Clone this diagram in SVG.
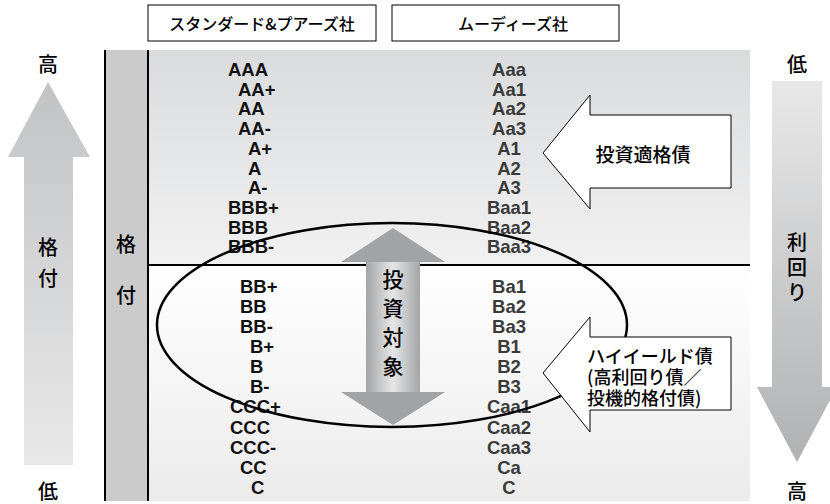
<svg xmlns="http://www.w3.org/2000/svg" width="830" height="504" viewBox="0 0 830 504">
<defs>
<style>
.jp{font-family:"Noto Sans CJK JP","Noto Sans",sans-serif;fill:#000;font-weight:500}
.r{font-family:"Liberation Sans",Arial,sans-serif;font-weight:bold;font-size:18.5px}
.sp{fill:#111}
.md{fill:#3a3a3a;text-anchor:middle}
.ln{stroke:#000;stroke-width:2;fill:none}
.co{fill:#fff;stroke:#000;stroke-width:1}
</style>
<linearGradient id="gUp" x1="0" y1="0" x2="0" y2="1"><stop offset="0" stop-color="#dadbdc"/><stop offset="1" stop-color="#f1f1f2"/></linearGradient>
<linearGradient id="gLo" x1="0" y1="0" x2="0" y2="1"><stop offset="0" stop-color="#ffffff"/><stop offset="1" stop-color="#ebebec"/></linearGradient>
<linearGradient id="gLA" x1="0" y1="0" x2="0" y2="1"><stop offset="0" stop-color="#c2c3c4"/><stop offset="1" stop-color="#e8e8e9"/></linearGradient>
<linearGradient id="gRA" x1="0" y1="0" x2="0" y2="1"><stop offset="0" stop-color="#e8e8e9"/><stop offset="1" stop-color="#b0b1b2"/></linearGradient>
<linearGradient id="gSh" x1="0" y1="0" x2="1" y2="0"><stop offset="0" stop-color="#a4a5a6"/><stop offset="0.5" stop-color="#e6e6e7"/><stop offset="1" stop-color="#a4a5a6"/></linearGradient>
</defs>

<g id="header-sp"><rect x="148" y="5" width="228" height="36" fill="#fff" stroke="#000" stroke-width="1"/><text class="jp" x="262" y="23" font-size="16" text-anchor="middle" dominant-baseline="central">スタンダード&amp;プアーズ社</text></g>
<g id="header-moodys"><rect x="392" y="5" width="227" height="36" fill="#fff" stroke="#000" stroke-width="1"/><text class="jp" x="513" y="23" font-size="16" text-anchor="middle" dominant-baseline="central">ムーディーズ社</text></g>

<g id="panel">
<rect x="148" y="50" width="602" height="215" fill="url(#gUp)"/>
<rect x="148" y="265" width="602" height="236" fill="url(#gLo)"/>
</g>

<g id="rating-column">
<rect x="105" y="50" width="43" height="451" fill="#cbcbcb"/>
<line class="ln" x1="105" y1="50" x2="105" y2="501"/>
<line class="ln" x1="148" y1="50" x2="148" y2="501"/>
<text class="jp" x="126" y="243" font-size="20" text-anchor="middle" dominant-baseline="central">格</text>
<text class="jp" x="126" y="294" font-size="20" text-anchor="middle" dominant-baseline="central">付</text>
</g>

<g id="left-arrow">
<path d="M48,82 L90,157 L73,157 L73,465 L24,465 L24,157 L8,157 Z" fill="url(#gLA)"/>
<text class="jp" x="48" y="63" font-size="20" text-anchor="middle" dominant-baseline="central">高</text>
<text class="jp" x="48" y="246" font-size="20" text-anchor="middle" dominant-baseline="central">格</text>
<text class="jp" x="48" y="277" font-size="20" text-anchor="middle" dominant-baseline="central">付</text>
<text class="jp" x="48" y="490" font-size="20" text-anchor="middle" dominant-baseline="central">低</text>
</g>

<g id="right-arrow">
<path d="M772,81 L822,81 L822,387 L837,387 L797,462 L757,387 L772,387 Z" fill="url(#gRA)"/>
<text class="jp" x="797" y="63" font-size="20" text-anchor="middle" dominant-baseline="central">低</text>
<text class="jp" x="797" y="241" font-size="20" text-anchor="middle" dominant-baseline="central">利</text>
<text class="jp" x="797" y="266" font-size="20" text-anchor="middle" dominant-baseline="central">回</text>
<text class="jp" x="797" y="291" font-size="20" text-anchor="middle" dominant-baseline="central">り</text>
<text class="jp" x="797" y="490" font-size="20" text-anchor="middle" dominant-baseline="central">高</text>
</g>

<g id="connectors">
<line class="ln" x1="148" y1="265" x2="750" y2="265"/>
</g>

<g id="sp-ratings" class="r sp">
<text x="228" y="76">AAA</text>
<text x="238" y="95.7">AA+</text>
<text x="238" y="115.4">AA</text>
<text x="238" y="135.1">AA-</text>
<text x="248" y="154.8">A+</text>
<text x="248" y="174.5">A</text>
<text x="248" y="194.2">A-</text>
<text x="228" y="213.9">BBB+</text>
<text x="228" y="233.6">BBB</text>
<text x="228" y="253.3">BBB-</text>
<text x="240" y="292.5">BB+</text>
<text x="240" y="312.7">BB</text>
<text x="240" y="332.8">BB-</text>
<text x="250" y="353">B+</text>
<text x="250" y="373.1">B</text>
<text x="250" y="393.3">B-</text>
<text x="230" y="413.4">CCC+</text>
<text x="230" y="433.6">CCC</text>
<text x="230" y="453.7">CCC-</text>
<text x="240" y="473.9">CC</text>
<text x="251" y="494">C</text>
</g>

<g id="moodys-ratings" class="r md">
<text x="509" y="76">Aaa</text>
<text x="509" y="95.7">Aa1</text>
<text x="509" y="115.4">Aa2</text>
<text x="509" y="135.1">Aa3</text>
<text x="509" y="154.8">A1</text>
<text x="509" y="174.5">A2</text>
<text x="509" y="194.2">A3</text>
<text x="509" y="213.9">Baa1</text>
<text x="509" y="233.6">Baa2</text>
<text x="509" y="253.3">Baa3</text>
<text x="509" y="292.5">Ba1</text>
<text x="509" y="312.7">Ba2</text>
<text x="509" y="332.8">Ba3</text>
<text x="509" y="353">B1</text>
<text x="509" y="373.1">B2</text>
<text x="509" y="393.3">B3</text>
<text x="509" y="413.4">Caa1</text>
<text x="509" y="433.6">Caa2</text>
<text x="509" y="453.7">Caa3</text>
<text x="509" y="473.9">Ca</text>
<text x="509" y="494">C</text>
</g>

<g id="investment-target">
<polygon points="393,228 445,262 341,262" fill="#a2a3a4"/>
<rect x="366" y="262" width="54" height="130" fill="url(#gSh)"/>
<polygon points="341,392 445,392 393,425" fill="#a2a3a4"/>
<text class="jp" x="393" y="278" font-size="21" text-anchor="middle" dominant-baseline="central">投</text>
<text class="jp" x="393" y="307" font-size="21" text-anchor="middle" dominant-baseline="central">資</text>
<text class="jp" x="393" y="336" font-size="21" text-anchor="middle" dominant-baseline="central">対</text>
<text class="jp" x="393" y="365" font-size="21" text-anchor="middle" dominant-baseline="central">象</text>
</g>

<g id="high-yield-ellipse">
<ellipse cx="392" cy="325" rx="235" ry="102" fill="none" stroke="#000" stroke-width="2.5"/>
</g>

<g id="investment-grade">
<path class="co" d="M543,153 L590,95 L590,115 L731,115 L731,188 L590,188 L590,209 Z"/>
<text class="jp" x="643" y="153" font-size="19" text-anchor="middle" dominant-baseline="central">投資適格債</text>
</g>

<g id="high-yield">
<path class="co" d="M543,373 L590,317 L590,337 L731,337 L731,410 L590,410 L590,432 Z"/>
<text class="jp" x="587" y="355" font-size="18" dominant-baseline="central">ハイイールド債</text>
<text class="jp" x="587" y="376" font-size="18" dominant-baseline="central">(高利回り債／</text>
<text class="jp" x="587" y="397" font-size="18" dominant-baseline="central">投機的格付債)</text>
</g>
</svg>
